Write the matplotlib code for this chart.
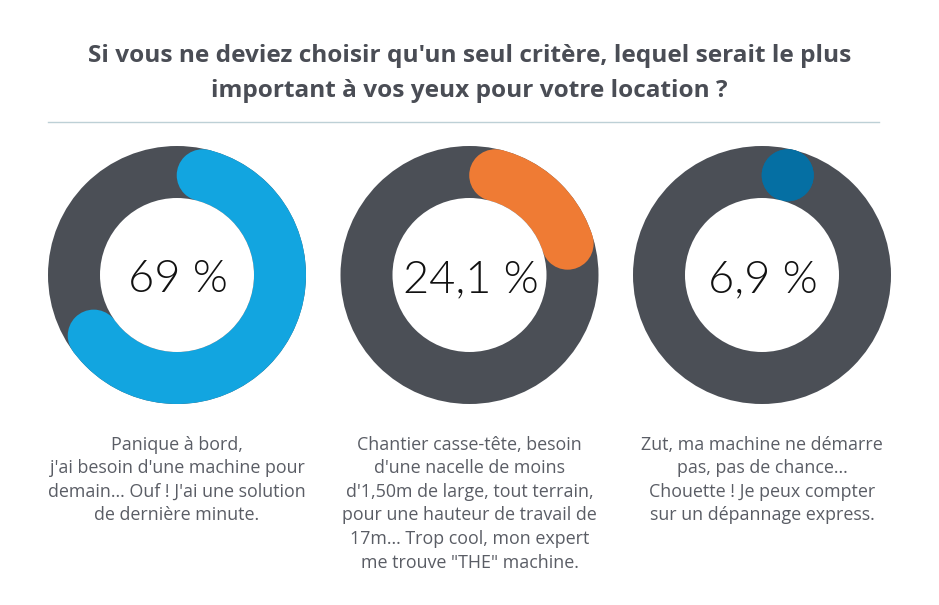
import matplotlib
matplotlib.use("Agg")
import matplotlib.pyplot as plt
from matplotlib import font_manager as fm
from matplotlib.patches import Circle
import numpy as np

title = "Si vous ne deviez choisir qu'un seul critère, lequel serait le plus\nimportant à vos yeux pour votre location ?"
values = [69, 24.1, 6.9]
labels = ["69 %", "24,1 %", "6,9 %"]
colors = ["#12A5E0", "#EF7B34", "#056FA3"]
captions = [
    "Panique à bord,\nj'ai besoin d'une machine pour\ndemain... Ouf ! J'ai une solution\nde dernière minute.",
    "Chantier casse-tête, besoin\nd'une nacelle de moins\nd'1,50m de large, tout terrain,\npour une hauteur de travail de\n17m... Trop cool, mon expert\nme trouve \"THE\" machine.",
    "Zut, ma machine ne démarre\npas, pas de chance...\nChouette ! Je peux compter\nsur un dépannage express.",
]
centers_px = [(177, 275), (469.5, 275), (762, 275)]
W, H = 939, 605
R = 129
r = 77
DARK = "#4B4F56"

# a true Light cut for the centre figures (weight matching falls on Hairline)
light = [f.fname for f in fm.fontManager.ttflist
         if f.name == "Lato" and f.fname.endswith("Lato-Light.ttf")]
if light:
    num_font = fm.FontProperties(fname=light[0], size=32.5)
else:
    num_font = fm.FontProperties(family="Open Sans", weight="light", size=31)

fig = plt.figure(figsize=(W / 100, H / 100), dpi=100, facecolor="white")
ax = fig.add_axes([0, 0, 1, 1])
ax.set_xlim(0, W)
ax.set_ylim(H, 0)
ax.set_aspect("equal")
ax.axis("off")

ax.text(469.5, 73.7, title, ha="center", va="center", fontsize=17.6, fontweight="bold",
        family="Open Sans", color="#4A4D55", linespacing=1.58)
ax.plot([48, 879], [122, 122], color="#BDD0D6", lw=1.0)

mid = (R + r) / 2
th = R - r
cap = th / 2 / mid  # angular half-width of the round cap

for (cx, cy), v, lab, col, txt in zip(centers_px, values, labels, colors, captions):
    ax.add_patch(Circle((cx, cy), R, fc=DARK, ec="none"))
    ax.add_patch(Circle((cx, cy), r, fc="white", ec="none", zorder=3))
    # the value's arc includes its round caps, which start at 12 o'clock
    end = max(cap, 2 * np.pi * v / 100 - cap)
    t = np.linspace(cap, end, 300)
    xs, ys = cx + mid * np.sin(t), cy - mid * np.cos(t)
    ax.plot(xs, ys, color=col, lw=th * 0.72, solid_capstyle="butt", zorder=2)
    for i in (0, -1):
        ax.add_patch(Circle((xs[i], ys[i]), th / 2, fc=col, ec="none", zorder=2))
    ax.text(cx + 1, cy + 5, lab, ha="center", va="center", fontproperties=num_font,
            color="#111111", zorder=4)
    ax.text(cx, 435.5, txt, ha="center", va="top", fontsize=12.9,
            family="Open Sans", color="#5A5D65", linespacing=1.40)

fig.savefig("out.png", dpi=100)
